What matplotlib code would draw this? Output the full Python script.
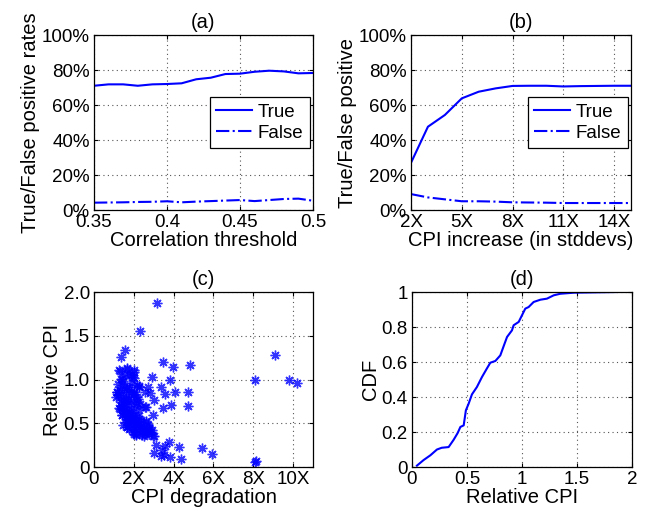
import matplotlib
matplotlib.use("Agg")
import matplotlib.pyplot as plt
from matplotlib.ticker import FuncFormatter

plt.rcParams["font.family"] = ["Liberation Sans", "DejaVu Sans"]
plt.rcParams["font.size"] = 13.5

BLUE = "#0000ff"
LABEL_SIZE = 14.5
TITLE_SIZE = 14.5

# (a) correlation threshold sweep
corr_threshold = [0.35, 0.36, 0.37, 0.38, 0.39, 0.40, 0.41, 0.42,
                  0.43, 0.44, 0.45, 0.46, 0.47, 0.48, 0.49, 0.50]
corr_true = [71.0, 71.8, 71.8, 71.0, 71.8, 72.0, 72.4, 74.7,
             75.6, 77.7, 77.9, 79.0, 79.6, 79.2, 78.1, 78.3]
corr_false = [4.2, 4.3, 4.4, 4.6, 4.7, 5.0, 4.4, 4.8,
              5.1, 5.4, 5.7, 5.1, 5.7, 6.3, 6.5, 5.3]

# (b) CPI increase sweep
cpi_increase = [2, 3, 4, 5, 6, 7, 8, 9, 10, 11, 12, 13, 14, 15]
inc_true = [27.0, 47.6, 54.3, 63.8, 67.6, 69.5, 70.9, 71.0,
            71.0, 70.6, 70.8, 70.9, 71.0, 71.0]
inc_false = [9.1, 7.2, 6.1, 5.0, 5.0, 4.8, 4.4, 4.3,
             4.2, 4.0, 4.0, 4.0, 4.0, 4.0]

# (c) CPI degradation vs relative CPI
degradation = [3.18, 2.29, 1.54, 1.34, 3.45, 3.97, 4.82, 2.91, 3.82, 3.38,
               3.58, 4.05, 4.74, 3.00, 2.58, 2.73, 2.83, 3.48, 3.89, 4.72,
               2.56, 2.95, 2.29, 3.13, 3.00, 3.77, 3.57, 3.43, 3.35, 3.52,
               3.80, 4.27, 4.39, 5.41, 5.91, 8.07, 8.16, 9.08, 8.09, 9.80,
               10.22,
               1.31, 1.68, 2.01, 1.41, 1.84, 2.01, 2.26, 1.17, 1.26, 1.51,
               1.76, 2.01, 2.18, 1.34, 1.59, 1.84, 2.09, 1.26, 1.51, 1.76,
               2.26, 2.60, 1.42, 1.68, 1.93, 1.59, 1.84, 2.09, 2.35, 2.60,
               1.68, 2.01, 2.43, 2.76, 2.93, 2.09, 2.51, 2.85, 3.02, 2.21,
               2.26, 1.10, 1.20, 1.45, 1.62, 1.90, 1.55, 1.35, 1.72, 1.95,
               2.15, 1.48, 1.80, 2.40, 2.70, 1.95, 2.30, 1.65, 1.40, 1.85,
               2.55, 1.95, 2.20, 1.30, 1.58,
               1.26, 1.68, 2.01, 1.34, 1.76, 1.98, 2.18, 2.26, 1.17, 1.21,
               1.42, 1.59, 1.84, 2.01, 1.34, 1.59, 1.76, 2.09, 1.31, 1.51,
               1.68, 2.18, 1.42, 1.59, 1.76, 1.93, 1.68, 1.84, 2.09, 2.35,
               2.60, 1.68, 1.93, 2.18, 2.51, 2.76, 2.09, 2.43, 2.76, 2.98,
               1.76, 2.01, 1.50, 1.88, 2.25, 2.65, 1.45, 1.70, 2.05, 2.45]
relative_cpi = [1.87, 1.55, 1.34, 1.26, 1.20, 1.14, 1.17, 1.03, 0.99, 0.92,
                0.83, 0.86, 0.86, 0.77, 0.86, 0.91, 0.85, 0.68, 0.71, 0.70,
                0.69, 0.60, 0.72, 0.25, 0.16, 0.29, 0.24, 0.19, 0.13, 0.14,
                0.11, 0.23, 0.09, 0.22, 0.15, 0.06, 0.07, 1.28, 1.00, 0.99,
                0.96,
                1.10, 1.12, 1.09, 1.01, 1.05, 1.02, 0.93, 0.86, 0.82, 0.90,
                0.91, 0.86, 0.80, 0.74, 0.78, 0.72, 0.70, 0.67, 0.65, 0.63,
                0.65, 0.69, 0.59, 0.57, 0.55, 0.51, 0.50, 0.51, 0.50, 0.53,
                0.46, 0.44, 0.44, 0.46, 0.42, 0.38, 0.36, 0.40, 0.35, 0.78,
                0.55, 0.80, 0.95, 0.98, 0.84, 0.96, 0.62, 0.70, 0.75, 0.60,
                0.47, 0.48, 0.54, 0.41, 0.48, 0.40, 0.43, 0.92, 0.68, 0.66,
                0.38, 0.83, 0.58, 0.88, 1.06,
                1.11, 1.13, 1.11, 1.01, 1.05, 1.03, 0.94, 0.92, 0.86, 0.82,
                0.94, 0.88, 0.86, 0.84, 0.77, 0.75, 0.78, 0.77, 0.66, 0.69,
                0.65, 0.73, 0.59, 0.61, 0.58, 0.56, 0.52, 0.54, 0.52, 0.54,
                0.52, 0.46, 0.48, 0.46, 0.46, 0.44, 0.37, 0.37, 0.38, 0.35,
                0.44, 0.38, 0.72, 0.62, 0.49, 0.41, 0.80, 0.55, 0.60, 0.43]

# (d) CDF of relative CPI
cdf_x = [0.045, 0.106, 0.167, 0.227, 0.27, 0.333, 0.379, 0.415, 0.44, 0.47,
         0.49, 0.515, 0.545, 0.59, 0.636, 0.68, 0.712, 0.758, 0.803, 0.833,
         0.864, 0.909, 0.924, 0.97, 1.0, 1.03, 1.06, 1.106, 1.167, 1.227,
         1.288, 1.348, 1.47, 1.864]
cdf_y = [0.008, 0.04, 0.067, 0.10, 0.11, 0.114, 0.156, 0.194, 0.229, 0.238,
         0.324, 0.362, 0.415, 0.457, 0.514, 0.562, 0.596, 0.606, 0.638, 0.69,
         0.743, 0.781, 0.81, 0.829, 0.867, 0.905, 0.914, 0.943, 0.956, 0.962,
         0.981, 0.990, 0.996, 1.0]


def style_axes(ax):
    ax.grid(True, color="#555555", linestyle=(0, (1, 3)), linewidth=0.8)
    ax.tick_params(direction="in", length=3, top=True, right=True, pad=3)
    for spine in ax.spines.values():
        spine.set_linewidth(0.9)


fig = plt.figure(figsize=(6.49, 5.14), dpi=100)
ax_a = fig.add_axes([0.1448, 0.5914, 0.3375, 0.3405])
ax_b = fig.add_axes([0.6333, 0.5914, 0.3390, 0.3405])
ax_c = fig.add_axes([0.1448, 0.0914, 0.3375, 0.3405])
ax_d = fig.add_axes([0.6348, 0.0914, 0.3390, 0.3405])

pct = FuncFormatter(lambda v, _: f"{v:.0f}%")

ax_a.plot(corr_threshold, corr_true, color=BLUE, lw=1.5, label="True")
ax_a.plot(corr_threshold, corr_false, color=BLUE, lw=1.5, ls="-.", label="False")
ax_a.set_xlim(0.35, 0.5)
ax_a.set_ylim(0, 100)
ax_a.set_xticks([0.35, 0.4, 0.45, 0.5], ["0.35", "0.4", "0.45", "0.5"])
ax_a.set_yticks(range(0, 101, 20))
ax_a.yaxis.set_major_formatter(pct)
ax_a.set_xlabel("Correlation threshold", fontsize=LABEL_SIZE, labelpad=0)
ax_a.set_ylabel("True/False positive rates", fontsize=LABEL_SIZE, labelpad=1)
ax_a.set_title("(a)", fontsize=TITLE_SIZE, pad=5)

ax_b.plot(cpi_increase, inc_true, color=BLUE, lw=1.5, label="True")
ax_b.plot(cpi_increase, inc_false, color=BLUE, lw=1.5, ls="-.", label="False")
ax_b.set_xlim(2, 15)
ax_b.set_ylim(0, 100)
ax_b.set_xticks([2, 5, 8, 11, 14], ["2X", "5X", "8X", "11X", "14X"])
ax_b.set_yticks(range(0, 101, 20))
ax_b.yaxis.set_major_formatter(pct)
ax_b.set_xlabel("CPI increase (in stddevs)", fontsize=LABEL_SIZE, labelpad=0)
ax_b.set_ylabel("True/False positive", fontsize=LABEL_SIZE, labelpad=1)
ax_b.set_title("(b)", fontsize=TITLE_SIZE, pad=5)

for ax in (ax_a, ax_b):
    leg = ax.legend(loc="center right", bbox_to_anchor=(0.985, 0.5), fancybox=False,
                    framealpha=1, edgecolor="black", fontsize=13.5,
                    handlelength=1.9, handletextpad=0.3, borderpad=0.35,
                    labelspacing=0.2, borderaxespad=0)
    leg.get_frame().set_linewidth(0.9)

ax_c.plot(degradation, relative_cpi, linestyle="none", marker=(8, 2, 0),
          markersize=7, markeredgewidth=1.0, color=BLUE, alpha=0.8)
ax_c.set_xlim(0, 11)
ax_c.set_ylim(0, 2)
ax_c.set_xticks([0, 2, 4, 6, 8, 10], ["0", "2X", "4X", "6X", "8X", "10X"])
ax_c.set_yticks([0, 0.5, 1.0, 1.5, 2.0], ["0", "0.5", "1.0", "1.5", "2.0"])
ax_c.set_xlabel("CPI degradation", fontsize=LABEL_SIZE, labelpad=0)
ax_c.set_ylabel("Relative CPI", fontsize=LABEL_SIZE, labelpad=1)
ax_c.set_title("(c)", fontsize=TITLE_SIZE, pad=5)

ax_d.plot(cdf_x, cdf_y, color=BLUE, lw=1.5)
ax_d.set_xlim(0, 2)
ax_d.set_ylim(0, 1)
ax_d.set_xticks([0, 0.5, 1, 1.5, 2], ["0", "0.5", "1", "1.5", "2"])
ax_d.set_yticks([0, 0.2, 0.4, 0.6, 0.8, 1], ["0", "0.2", "0.4", "0.6", "0.8", "1"])
ax_d.set_xlabel("Relative CPI", fontsize=LABEL_SIZE, labelpad=0)
ax_d.set_ylabel("CDF", fontsize=LABEL_SIZE, labelpad=1)
ax_d.set_title("(d)", fontsize=TITLE_SIZE, pad=5)

for ax in (ax_a, ax_b, ax_c, ax_d):
    style_axes(ax)

fig.savefig("out.png", dpi=100)
